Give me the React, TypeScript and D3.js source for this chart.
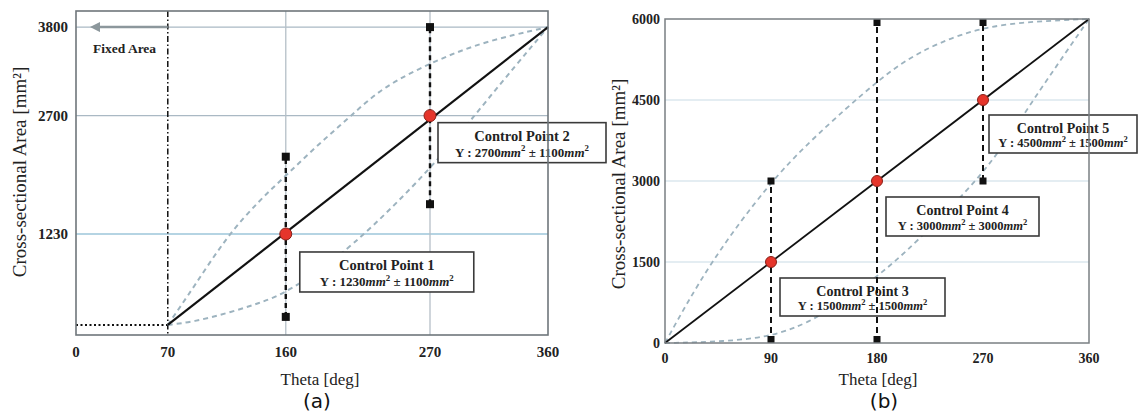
import React from 'react';
import * as d3 from 'd3';

// ---- panel (a) ----
const thetaTicksA = [0, 70, 160, 270, 360];
const areaTicksA = [1230, 2700, 3800];
const thetaGridA = [160, 270];
const fixedThetaA = 70;
const fixedAreaA = 100;
const endAreaA = 3800;
const upperA: [number, number][] = [
  [70, 100], [90, 575], [115, 1200], [140, 1650], [162, 1985], [186, 2360],
  [210, 2700], [234, 3060], [275, 3390], [311, 3620], [360, 3800],
];
const lowerA: [number, number][] = [
  [70, 100], [90, 140], [115, 245], [140, 370], [162, 510], [209, 1030],
  [275, 2110], [311, 2850], [360, 3800],
];
const controlA = [
  { label: 'Control Point 1', theta: 160, area: 1230, low: 200, high: 2190, tol: 1100 },
  { label: 'Control Point 2', theta: 270, area: 2700, low: 1600, high: 3800, tol: 1100 },
];

// ---- panel (b) ----
const thetaTicksB = [0, 90, 180, 270, 360];
const areaTicksB = [0, 1500, 3000, 4500, 6000];
const areaGridB = [1500, 3000, 4500];
const endAreaB = 6000;
const upperB: [number, number][] = [
  [0, 0], [38, 1500], [90, 3000], [123, 3730], [154, 4350], [178, 4800],
  [202, 5210], [231, 5550], [270, 5860], [316, 5960], [360, 6000],
];
const lowerB: [number, number][] = [
  [0, 0], [52, 25], [88, 120], [109, 270], [132, 490], [181, 1230],
  [211, 1815], [273, 3170], [304, 4220], [333, 5150], [360, 6000],
];
const controlB = [
  { label: 'Control Point 3', theta: 90, area: 1500, low: 0, high: 3000, tol: 1500 },
  { label: 'Control Point 4', theta: 180, area: 3000, low: 0, high: 6000, tol: 3000 },
  { label: 'Control Point 5', theta: 270, area: 4500, low: 3000, high: 6000, tol: 1500 },
];

// box layout (pixel offsets from the control point)
const boxLayoutA = [
  { dx: 14, dy: 18, w: 174, h: 40 },
  { dx: 8, dy: 7, w: 168, h: 40 },
];
const boxLayoutB = [
  { dx: 9, dy: 16, w: 165, h: 38 },
  { dx: 9, dy: 16, w: 153, h: 39 },
  { dx: 6, dy: 15, w: 148, h: 38 },
];

const SERIF = "'Liberation Serif', 'Times New Roman', serif";
const CURVE = '#9db3bf';
const RED = '#e5352b';

type CP = { label: string; theta: number; area: number; low: number; high: number; tol: number };
type Box = { dx: number; dy: number; w: number; h: number };

const ControlBox = ({ x, y, b, cp, titleSize, subSize }: { x: number; y: number; b: Box; cp: CP; titleSize: number; subSize: number }) => {
  const sup = subSize * 0.68;
  const up = subSize * 0.4;
  return (
    <g fontFamily={SERIF} fontWeight="bold" fill="#222">
      <rect x={x} y={y} width={b.w} height={b.h} fill="#fff" stroke="#3a3a3a" strokeWidth={1.6} />
      <text x={x + b.w / 2} y={y + 18} textAnchor="middle" fontSize={titleSize}>{cp.label}</text>
      <text x={x + b.w / 2} y={y + b.h - 6} textAnchor="middle" fontSize={subSize}>
        {'Y : ' + cp.area}
        <tspan fontStyle="italic">mm</tspan>
        <tspan dy={-up} fontSize={sup}>2</tspan>
        <tspan dy={up}>{' ± ' + cp.tol}</tspan>
        <tspan fontStyle="italic">mm</tspan>
        <tspan dy={-up} fontSize={sup}>2</tspan>
      </text>
    </g>
  );
};

const App: React.FC = () => {
  const xA = d3.scaleLinear().domain([0, 360]).range([76, 548]);
  const yA = d3.scaleLinear().domain([0, 4000]).range([333, 11]);
  const xB = d3.scaleLinear().domain([0, 360]).range([665, 1089]);
  const yB = d3.scaleLinear().domain([0, 6000]).range([343, 19]);

  const lineA = d3.line<[number, number]>().x(d => xA(d[0])).y(d => yA(d[1])).curve(d3.curveBasis);
  const lineB = d3.line<[number, number]>().x(d => xB(d[0])).y(d => yB(d[1])).curve(d3.curveBasis);

  const [ax0, ax1] = xA.range();
  const aTop = yA.range()[1];
  const aBottom = yA(0) + 2;
  const [bx0, bx1] = xB.range();
  const [bBottom, bTop] = yB.range();

  const sqA = 8;
  const sqB = 7;

  return (
    <svg width={1138} height={416} style={{ position: 'absolute', left: 0, top: 0, background: '#fff' }}>
      <defs>
        <marker id="arrowL" viewBox="0 0 10 10" refX="2" refY="5" markerWidth="4" markerHeight="4" orient="auto-start-reverse">
          <path d="M0,0 L10,5 L0,10 Z" fill="#8c979c" />
        </marker>
      </defs>

      {/* ===================== (a) ===================== */}
      <g>
        <rect x={ax0} y={aTop} width={ax1 - ax0} height={aBottom - aTop} fill="#fff" />
        {areaTicksA.map(v => (
          <line key={v} x1={ax0} x2={ax1} y1={yA(v)} y2={yA(v)} stroke={v === 1230 ? '#9cc6da' : '#aab9c4'} strokeWidth={1.4} />
        ))}
        {thetaGridA.map(t => (
          <line key={t} x1={xA(t)} x2={xA(t)} y1={aTop} y2={aBottom} stroke="#b5bfc7" strokeWidth={1.3} />
        ))}
        {/* fixed area marker */}
        <line x1={xA(fixedThetaA)} x2={xA(fixedThetaA)} y1={aTop} y2={aBottom} stroke="#111" strokeWidth={1.5} strokeDasharray="6,2.5,1.5,2.5" />
        <line x1={xA(fixedThetaA)} x2={xA(0) + 22} y1={yA(endAreaA)} y2={yA(endAreaA)} stroke="#8c979c" strokeWidth={2.5} markerEnd="url(#arrowL)" />
        <text x={xA(0) + 17} y={53} fontFamily={SERIF} fontWeight="bold" fontSize={13.5} fill="#222">Fixed Area</text>
        <line x1={xA(0)} x2={xA(fixedThetaA)} y1={yA(fixedAreaA)} y2={yA(fixedAreaA)} stroke="#111" strokeWidth={2} strokeDasharray="2,2.5" />

        <path d={lineA(upperA) || ''} fill="none" stroke={CURVE} strokeWidth={2} strokeDasharray="5,4" />
        <path d={lineA(lowerA) || ''} fill="none" stroke={CURVE} strokeWidth={2} strokeDasharray="5,4" />
        <line x1={xA(fixedThetaA)} y1={yA(fixedAreaA)} x2={xA(360)} y2={yA(endAreaA)} stroke="#111" strokeWidth={2.2} />

        {controlA.map((cp, i) => (
          <ControlBox key={cp.label} x={xA(cp.theta) + boxLayoutA[i].dx} y={yA(cp.area) + boxLayoutA[i].dy} b={boxLayoutA[i]} cp={cp} titleSize={14.5} subSize={13} />
        ))}
        {controlA.map(cp => (
          <g key={cp.label}>
            <line x1={xA(cp.theta)} x2={xA(cp.theta)} y1={yA(cp.low)} y2={yA(cp.high)} stroke="#111" strokeWidth={2.4} strokeDasharray="5,4" />
            <rect x={xA(cp.theta) - sqA / 2} y={yA(cp.low) - sqA / 2} width={sqA} height={sqA} fill="#111" />
            <rect x={xA(cp.theta) - sqA / 2} y={yA(cp.high) - sqA / 2} width={sqA} height={sqA} fill="#111" />
            <circle cx={xA(cp.theta)} cy={yA(cp.area)} r={6} fill={RED} stroke="#8a2018" strokeWidth={1} />
          </g>
        ))}

        <rect x={ax0} y={aTop} width={ax1 - ax0} height={aBottom - aTop} fill="none" stroke="#6f767b" strokeWidth={1.6} />

        {areaTicksA.map(v => (
          <text key={v} x={ax0 - 8} y={yA(v) + 5} textAnchor="end" fontFamily={SERIF} fontWeight="bold" fontSize={15} fill="#222">{v}</text>
        ))}
        {thetaTicksA.map(t => (
          <text key={t} x={xA(t)} y={357} textAnchor="middle" fontFamily={SERIF} fontWeight="bold" fontSize={15} fill="#222">{t}</text>
        ))}
        <text x={320} y={385} textAnchor="middle" fontFamily={SERIF} fontSize={17} fill="#222">Theta [deg]</text>
        <text transform="translate(26,172) rotate(-90)" textAnchor="middle" fontFamily={SERIF} fontSize={19} fill="#222">Cross-sectional Area [mm²]</text>
        <text x={317} y={408} textAnchor="middle" fontFamily="'DejaVu Sans', sans-serif" fontSize={20} fill="#111">(a)</text>
      </g>

      {/* ===================== (b) ===================== */}
      <g>
        <rect x={bx0} y={bTop} width={bx1 - bx0} height={bBottom - bTop} fill="#fff" />
        {areaGridB.map(v => (
          <line key={v} x1={bx0} x2={bx1} y1={yB(v)} y2={yB(v)} stroke="#dbe7ee" strokeWidth={1.5} />
        ))}

        <path d={lineB(upperB) || ''} fill="none" stroke={CURVE} strokeWidth={1.8} strokeDasharray="5,4" />
        <path d={lineB(lowerB) || ''} fill="none" stroke={CURVE} strokeWidth={1.8} strokeDasharray="5,4" />
        <line x1={xB(0)} y1={yB(0)} x2={xB(360)} y2={yB(endAreaB)} stroke="#111" strokeWidth={1.8} />

        {controlB.map((cp, i) => (
          <ControlBox key={cp.label} x={xB(cp.theta) + boxLayoutB[i].dx} y={yB(cp.area) + boxLayoutB[i].dy} b={boxLayoutB[i]} cp={cp} titleSize={14} subSize={12.5} />
        ))}
        {controlB.map(cp => (
          <g key={cp.label}>
            <line x1={xB(cp.theta)} x2={xB(cp.theta)} y1={yB(cp.low)} y2={yB(cp.high)} stroke="#111" strokeWidth={2} strokeDasharray="6,4" />
            <rect x={xB(cp.theta) - sqB / 2} y={Math.min(yB(cp.low), bBottom - sqB / 2) - sqB / 2} width={sqB} height={sqB} fill="#111" />
            <rect x={xB(cp.theta) - sqB / 2} y={Math.max(yB(cp.high), bTop + sqB / 2) - sqB / 2} width={sqB} height={sqB} fill="#111" />
            <circle cx={xB(cp.theta)} cy={yB(cp.area)} r={5.5} fill={RED} stroke="#8a2018" strokeWidth={1} />
          </g>
        ))}

        <rect x={bx0} y={bTop} width={bx1 - bx0} height={bBottom - bTop} fill="none" stroke="#7a7f83" strokeWidth={1.5} />

        {areaTicksB.map(v => (
          <text key={v} x={bx0 - 5} y={yB(v) + 5} textAnchor="end" fontFamily={SERIF} fontWeight="bold" fontSize={14} fill="#222">{v}</text>
        ))}
        {thetaTicksB.map(t => (
          <text key={t} x={xB(t)} y={363} textAnchor="middle" fontFamily={SERIF} fontWeight="bold" fontSize={14} fill="#222">{t}</text>
        ))}
        <text x={878} y={385} textAnchor="middle" fontFamily={SERIF} fontSize={17} fill="#222">Theta [deg]</text>
        <text transform="translate(625,184) rotate(-90)" textAnchor="middle" fontFamily={SERIF} fontSize={19} fill="#222">Cross-sectional Area [mm²]</text>
        <text x={884} y={408} textAnchor="middle" fontFamily="'DejaVu Sans', sans-serif" fontSize={20} fill="#111">(b)</text>
      </g>
    </svg>
  );
};

export default App;
